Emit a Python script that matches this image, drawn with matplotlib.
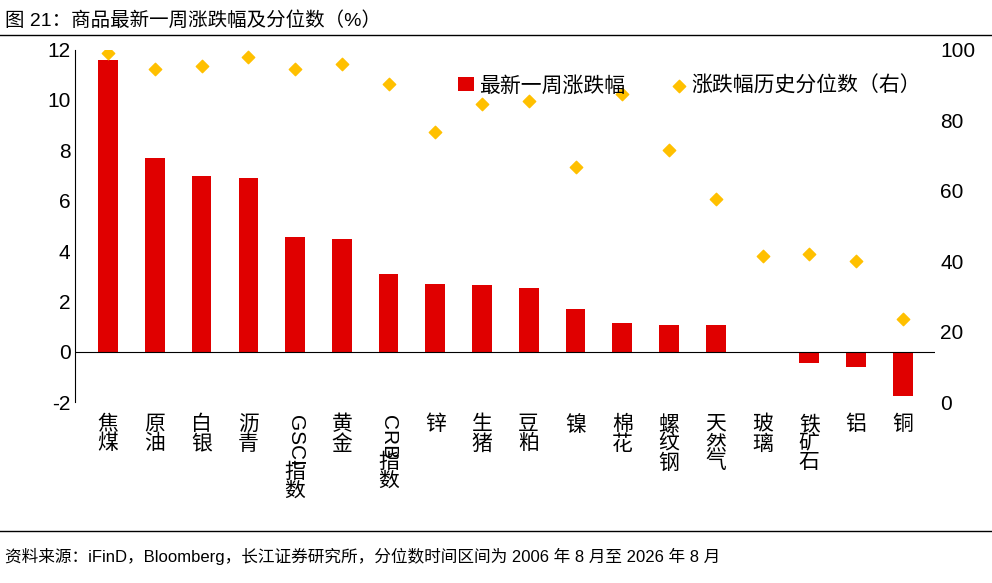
import matplotlib.pyplot as plt
import numpy as np

plt.rcParams['font.family'] = ['Liberation Sans', 'Noto Sans CJK SC', 'DejaVu Sans']
plt.rcParams['axes.unicode_minus'] = False

categories = ["焦煤", "原油", "白银", "沥青", "GSCI指数", "黄金", "CRB指数", "锌", "生猪", "豆粕",
              "镍", "棉花", "螺纹钢", "天然气", "玻璃", "铁矿石", "铝", "铜"]
weekly_change = [11.6, 7.7, 7.0, 6.9, 4.55, 4.5, 3.1, 2.7, 2.65, 2.55,
                 1.7, 1.15, 1.05, 1.05, 0.0, -0.45, -0.6, -1.75]
percentile = [99, 94.4, 95.2, 98, 94.4, 96, 90.1, 76.6, 84.5, 85.4,
              66.8, 87.3, 71.5, 57.5, 41.4, 42, 40, 23.7]

fig = plt.figure(figsize=(9.92, 5.83), dpi=100)
ax = fig.add_axes([0.076, 0.31, 0.867, 0.605])
x = np.arange(len(categories))
ax.bar(x, weekly_change, width=0.42, color='#e00000', label='最新一周涨跌幅')
ax.set_ylim(-2, 12)
ax.set_yticks(range(-2, 13, 2))
ax.set_xlim(-0.7, len(categories) - 0.3)
ax.axhline(0, color='black', lw=0.8)
ax.set_xticks([])
for s in ['top', 'right', 'bottom']:
    ax.spines[s].set_visible(False)
ax.tick_params(axis='y', labelsize=15, length=0)

ax2 = ax.twinx()
ax2.scatter(x, percentile, marker='D', s=40, color='#ffc000', label='涨跌幅历史分位数（右）', zorder=3)
ax2.set_ylim(0, 100)
ax2.set_yticks(range(0, 101, 20))
ax2.tick_params(axis='y', labelsize=15, length=0)
for s in ['top', 'right', 'bottom', 'left']:
    ax2.spines[s].set_visible(False)

# vertical category labels
for i, c in enumerate(categories):
    if c.endswith("指数"):
        latin = c[:-2]
        ax.text(i, -2.5, latin, rotation=270, ha='center', va='top', fontsize=15)
        ax.text(i, -2.5 - 0.4 * len(latin) - 0.3, "指\n数", ha='center', va='top', fontsize=15, linespacing=1.0)
    else:
        ax.text(i, -2.5, "\n".join(c), ha='center', va='top', fontsize=15, linespacing=1.0)

h1, l1 = ax.get_legend_handles_labels()
h2, l2 = ax2.get_legend_handles_labels()
ax2.legend(h1 + h2, l1 + l2, loc='upper right', bbox_to_anchor=(1.005, 0.98), ncol=2, frameon=False,
           fontsize=15, handlelength=0.8, handletextpad=0.2, columnspacing=2.2)

fig.text(0.005, 0.965, "图 21：商品最新一周涨跌幅及分位数（%）", fontsize=14, va='center')
fig.add_artist(plt.Line2D([0, 1], [0.94, 0.94], color='black', lw=1))
fig.add_artist(plt.Line2D([0, 1], [0.09, 0.09], color='black', lw=1))
fig.text(0.005, 0.045, "资料来源：iFinD，Bloomberg，长江证券研究所，分位数时间区间为 2006 年 8 月至 2026 年 8 月",
         fontsize=12, va='center')

fig.savefig('out.png', dpi=100)
